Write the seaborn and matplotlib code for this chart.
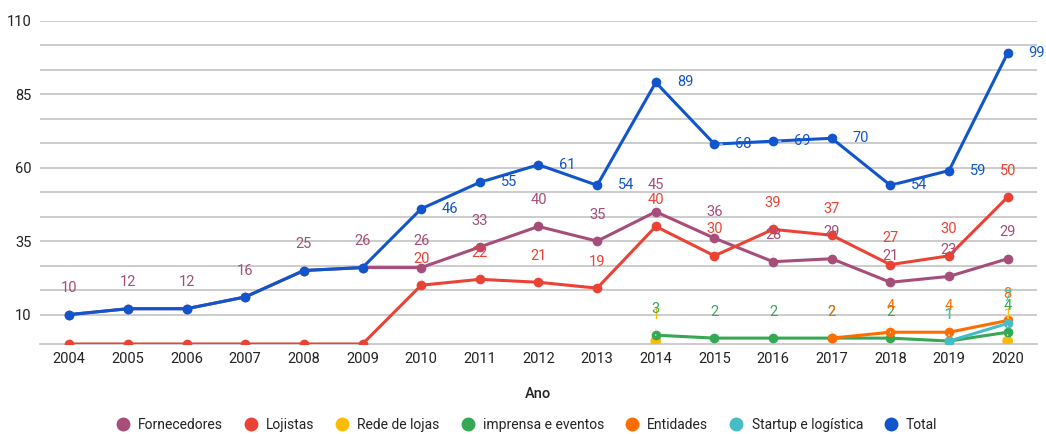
import numpy as np
import pandas as pd
import matplotlib
matplotlib.use("Agg")
import matplotlib.pyplot as plt
import seaborn as sns
from matplotlib.lines import Line2D

# data
years = list(range(2004, 2021))
fornecedores = [10, 12, 12, 16, 25, 26, 26, 33, 40, 35, 45, 36, 28, 29, 21, 23, 29]
lojistas = [0, 0, 0, 0, 0, 0, 20, 22, 21, 19, 40, 30, 39, 37, 27, 30, 50]
rede_lojas = [np.nan] * 10 + [1, np.nan, np.nan, np.nan, np.nan, np.nan, 1]
imprensa = [np.nan] * 10 + [3, 2, 2, 2, 2, 1, 4]
entidades = [np.nan] * 13 + [2, 4, 4, 8]
startup = [np.nan] * 15 + [1, 7]
total = [10, 12, 12, 16, 25, 26, 46, 55, 61, 54, 89, 68, 69, 70, 54, 59, 99]

series_names = ["Fornecedores", "Lojistas", "Rede de lojas", "imprensa e eventos",
                "Entidades", "Startup e logística", "Total"]
series_values = [fornecedores, lojistas, rede_lojas, imprensa, entidades, startup, total]
colors = ["#a64d79", "#ea4335", "#fbbc04", "#34a853", "#ff6d01", "#46bdc6", "#1155cc"]
palette = dict(zip(series_names, colors))

y_ticks = [10, 35, 60, 85, 110]

sns.set_style("white")
plt.rcParams["font.family"] = ["Roboto", "DejaVu Sans"]

fig = plt.figure(figsize=(10.46, 4.34), dpi=100)
ax = fig.add_axes([0.0382, 0.2074, 0.9532, 0.7449])

for name, vals in zip(series_names, series_values):
    df = pd.DataFrame({"Ano": years, "valor": vals})
    if name == "Rede de lojas":
        # isolated points only, no line across the gaps
        sns.scatterplot(data=df.dropna(), x="Ano", y="valor", color=palette[name],
                        s=60, edgecolor="none", ax=ax, zorder=3)
    else:
        sns.lineplot(data=df.dropna(), x="Ano", y="valor", color=palette[name],
                     marker="o", markersize=7, markeredgewidth=0, linewidth=2.2,
                     ax=ax, zorder=3)

# data labels (Google-Sheets style, with faint leader lines)
for name, vals in zip(series_names, series_values):
    for yr, v, f in zip(years, vals, fornecedores):
        if np.isnan(v):
            continue
        if name == "Total":
            if v == f:
                continue
            offset = (21, 0)
        else:
            if name == "Lojistas" and v == 0:
                continue
            offset = (0, 19)
        ax.annotate(f"{v:g}", xy=(yr, v), xytext=offset, textcoords="offset points",
                    ha="center", va="center", fontsize=10.5, color=palette[name],
                    arrowprops=dict(arrowstyle="-", color="#e4e4e4", lw=0.8,
                                    shrinkA=7, shrinkB=4), zorder=4)

ax.set_xlim(2003.5, 2020.5)
ax.set_ylim(0, 110)
ax.set_xticks(years)
ax.set_xticklabels([str(y) for y in years])
ax.set_yticks(y_ticks)
ax.set_yticks([10 + 25 / 3 * k for k in range(1, 12) if k % 3 != 0], minor=True)
ax.grid(which="both", axis="y", color="#c4c4c4", linewidth=1.2)
ax.grid(False, axis="x")
ax.set_axisbelow(True)
for s in ["top", "right", "left"]:
    ax.spines[s].set_visible(False)
ax.spines["bottom"].set_color("#c4c4c4")
ax.spines["bottom"].set_linewidth(1.2)
ax.tick_params(axis="both", which="both", length=0, labelsize=10.5, colors="#222222")
ax.tick_params(axis="y", pad=6)
ax.tick_params(axis="x", pad=6)
ax.set_xlabel("Ano", fontsize=10.5, color="#222222", fontweight="medium", labelpad=15)
ax.set_ylabel("")

handles = [Line2D([], [], marker="o", linestyle="", markersize=10, color=c,
                  markeredgewidth=0) for c in colors]
fig.legend(handles, series_names, loc="center", bbox_to_anchor=(0.5, 0.021), ncol=7,
           frameon=False, fontsize=10, handletextpad=0.1, columnspacing=1.0,
           labelcolor="#222222")

fig.savefig("out.png", dpi=100)
